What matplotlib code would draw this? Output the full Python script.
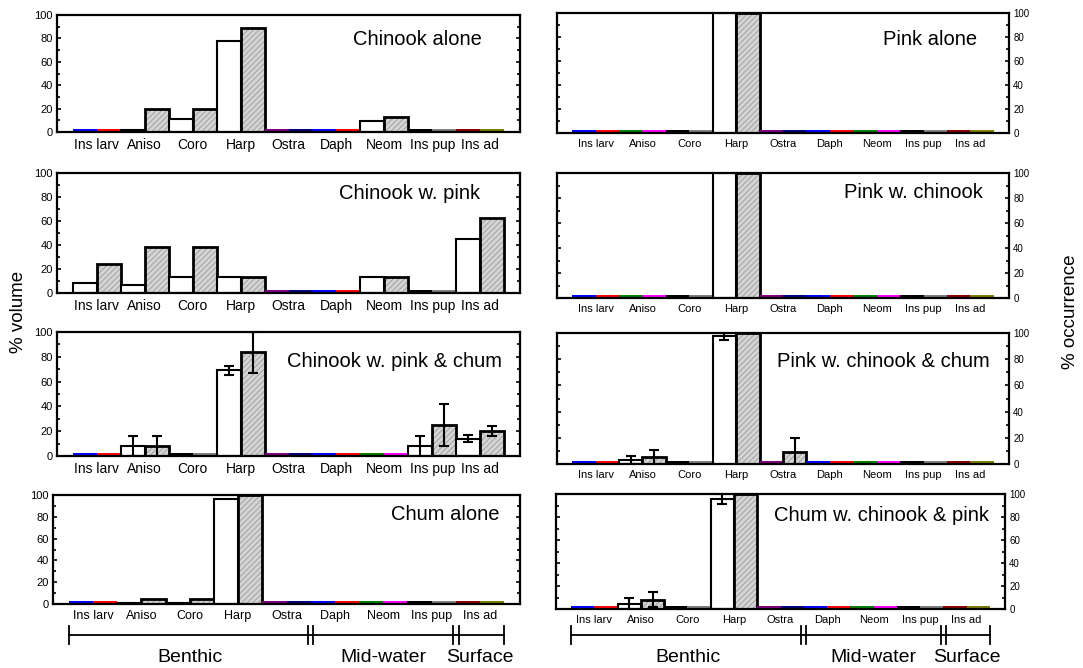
import numpy as np
import matplotlib.pyplot as plt
from matplotlib.transforms import blended_transform_factory

plt.rcParams['font.family'] = ['Liberation Sans', 'DejaVu Sans']
plt.rcParams['hatch.linewidth'] = 0.6

categories = ['Ins larv', 'Aniso', 'Coro', 'Harp', 'Ostra', 'Daph', 'Neom', 'Ins pup', 'Ins ad']
# colour each bar shows when its value is zero (two bars per category)
zero_colors = ['blue', 'red', 'green', 'magenta', 'black', 'gray', 'black', 'gray',
               'purple', 'navy', 'blue', 'red', 'green', 'magenta', 'black', 'gray',
               'darkred', 'olive']
groups = [('Benthic', 5), ('Mid-water', 3), ('Surface', 1)]

titles = ['Chinook alone', 'Pink alone',
          'Chinook w. pink', 'Pink w. chinook',
          'Chinook w. pink & chum', 'Pink w. chinook & chum',
          'Chum alone', 'Chum w. chinook & pink']

# % volume (white) and % occurrence (grey)
chinook_alone_vol = [0, 2, 11, 78, 0, 0, 9, 0, 0]
chinook_alone_occ = [0, 20, 20, 88.5, 0, 0, 12.5, 0, 0]

pink_alone_vol = [0, 0, 0, 100, 0, 0, 0, 0, 0]
pink_alone_occ = [0, 0, 0, 100, 0, 0, 0, 0, 0]

chinook_pink_vol = [8.5, 7, 13, 13, 0, 0, 13, 0, 45]
chinook_pink_occ = [24.5, 38, 38, 13, 0, 0, 13, 0, 62.5]

pink_chinook_vol = [0, 0, 0, 100, 0, 0, 0, 0, 0]
pink_chinook_occ = [0, 0, 0, 100, 0, 0, 0, 0, 0]

chinook_pink_chum_vol = [0, 8, 0, 69, 0, 0, 0, 8, 14]
chinook_pink_chum_vol_err = [0, 8, 0, 3.5, 0, 0, 0, 8.5, 3]
chinook_pink_chum_occ = [0, 8, 0, 83.5, 0, 0, 0, 25, 20.5]
chinook_pink_chum_occ_err = [0, 8.5, 0, 16.5, 0, 0, 0, 17, 4]

pink_chinook_chum_vol = [0, 3, 0, 97.5, 0, 0, 0, 0, 0]
pink_chinook_chum_vol_err = [0, 3, 0, 2.5, 0, 0, 0, 0, 0]
pink_chinook_chum_occ = [0, 5.5, 0, 100, 9.5, 0, 0, 0, 0]
pink_chinook_chum_occ_err = [0, 5.5, 0, 0, 10.5, 0, 0, 0, 0]

chum_alone_vol = [0, 1, 1, 96, 0, 0, 0, 0, 0]
chum_alone_occ = [0, 4.5, 4.5, 100, 0, 0, 0, 0, 0]

chum_chinook_pink_vol = [0, 4.5, 0, 95.5, 0, 0, 0, 0, 0]
chum_chinook_pink_vol_err = [0, 5.5, 0, 4.5, 0, 0, 0, 0, 0]
chum_chinook_pink_occ = [0, 8, 0, 100, 0, 0, 0, 0, 0]
chum_chinook_pink_occ_err = [0, 6.5, 0, 0, 0, 0, 0, 0, 0]

panels = [
    (chinook_alone_vol, chinook_alone_occ, None, None),
    (pink_alone_vol, pink_alone_occ, None, None),
    (chinook_pink_vol, chinook_pink_occ, None, None),
    (pink_chinook_vol, pink_chinook_occ, None, None),
    (chinook_pink_chum_vol, chinook_pink_chum_occ, chinook_pink_chum_vol_err, chinook_pink_chum_occ_err),
    (pink_chinook_chum_vol, pink_chinook_chum_occ, pink_chinook_chum_vol_err, pink_chinook_chum_occ_err),
    (chum_alone_vol, chum_alone_occ, None, None),
    (chum_chinook_pink_vol, chum_chinook_pink_occ, chum_chinook_pink_vol_err, chum_chinook_pink_occ_err),
]

W, H = 1083, 668
# axes boxes in pixels: x0, top, x1, bottom
boxes = [(57, 15, 520, 132), (557, 13, 1009, 133),
         (57, 173, 520, 293), (557, 173, 1009, 298),
         (57, 332, 520, 456), (557, 333, 1009, 464),
         (53, 495, 520, 604), (556, 494, 1005, 609)]
title_pos = [(0.918, 0.79), (0.929, 0.78), (0.914, 0.83), (0.942, 0.84),
             (0.961, 0.76), (0.958, 0.78), (0.957, 0.82), (0.965, 0.81)]

ZERO_H = 2.3
fig = plt.figure(figsize=(W / 100, H / 100), dpi=100)
axes = []
for k, (vol, occ, verr, oerr) in enumerate(panels):
    x0, top, x1, bot = boxes[k]
    ax = fig.add_axes([x0 / W, 1 - bot / H, (x1 - x0) / W, (bot - top) / H])
    axes.append(ax)
    right_col = k % 2 == 1
    xw = np.arange(len(categories)) * 2
    xo = xw + 1

    for i in range(len(categories)):
        # white bars = % volume
        if vol[i] == 0:
            ax.bar(xw[i], ZERO_H, width=1, color=zero_colors[2 * i], linewidth=0)
        else:
            ax.bar(xw[i], vol[i], width=1, color='white', edgecolor='black', linewidth=1.5)
        # grey hatched bars = % occurrence
        if occ[i] == 0:
            ax.bar(xo[i], ZERO_H, width=1, color=zero_colors[2 * i + 1], linewidth=0)
        else:
            ax.bar(xo[i], occ[i], width=1, color='#d4d4d4', edgecolor='#9a9a9a',
                   hatch='//////', linewidth=0)
            ax.bar(xo[i], occ[i], width=1, fill=False, edgecolor='black', linewidth=2)

    if verr is not None:
        for xs, ys, es in ((xw, vol, verr), (xo, occ, oerr)):
            m = np.array(es) > 0
            ax.errorbar(xs[m], np.array(ys)[m], yerr=np.array(es)[m], fmt='none',
                        ecolor='black', elinewidth=1.5, capsize=3.5, capthick=1.5)

    ax.set_xlim(-0.5 - 0.65, 17.5 + 0.65)
    ax.set_ylim(0, 100)
    ax.set_xticks(xw + 0.5)
    ax.set_xticklabels(categories, fontsize=8 if right_col else (9 if k == 6 else 10))
    ax.tick_params(axis='x', length=0, pad=4)
    ax.set_yticks(range(0, 101, 20))
    ax.set_yticks(range(0, 101, 10), minor=True)
    ax.tick_params(axis='y', which='both', direction='in', left=True, right=True,
                   labelleft=not right_col, labelright=right_col,
                   labelsize=7 if right_col else 8, width=1.2, pad=3)
    ax.tick_params(axis='y', which='major', length=3)
    ax.tick_params(axis='y', which='minor', length=2)
    for s in ax.spines.values():
        s.set_linewidth(1.6)
    tx, ty = title_pos[k]
    ax.text(tx, ty, titles[k], transform=ax.transAxes, ha='right', va='center', fontsize=14.5)

fig.text(0.017, 0.533, '% volume', rotation=90, ha='center', va='center', fontsize=13.5)
fig.text(0.988, 0.533, '% occurrence', rotation=90, ha='center', va='center', fontsize=13.5)

# habitat brackets under each column
y_line = 1 - 635 / H
half = 9 / H
for ax in axes[6:]:
    tr = blended_transform_factory(ax.transData, fig.transFigure)
    bounds = np.concatenate([[0], np.cumsum([n for _, n in groups])]) * 2 - 0.5
    ax.plot([bounds[0], bounds[-1]], [y_line, y_line], color='black', lw=1.3,
            transform=tr, clip_on=False)
    for j, b in enumerate(bounds):
        offs = [0] if j in (0, len(bounds) - 1) else [-0.11, 0.11]
        for o in offs:
            ax.plot([b + o, b + o], [y_line - half, y_line + half], color='black', lw=1.3,
                    transform=tr, clip_on=False)
    for j, (name, n) in enumerate(groups):
        ax.text((bounds[j] + bounds[j + 1]) / 2, 1 - 657 / H, name, transform=tr,
                ha='center', va='center', fontsize=14)

plt.savefig('out.png', dpi=100)
